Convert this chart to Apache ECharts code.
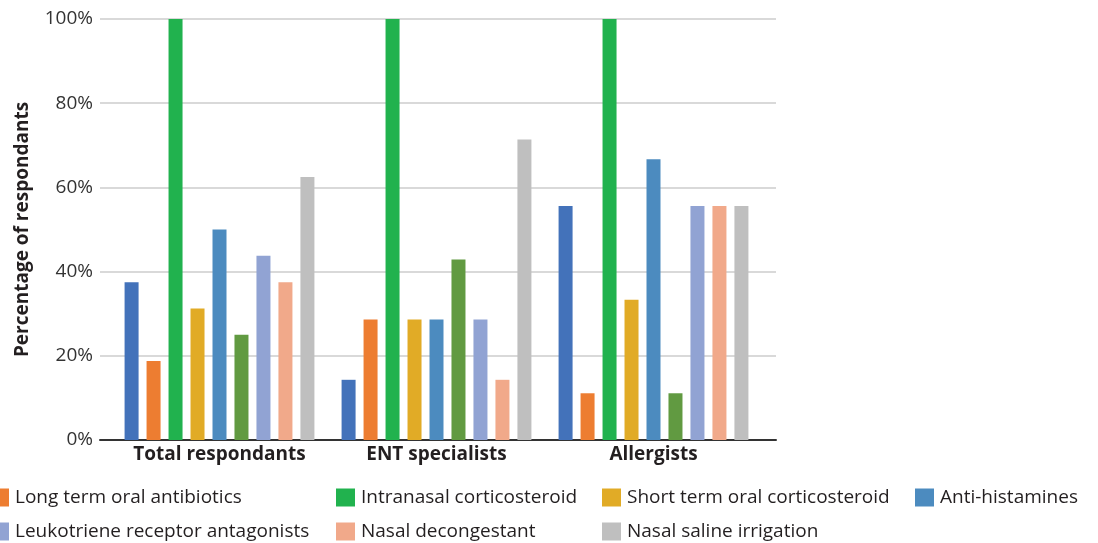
<!DOCTYPE html>
<html>
<head>
<meta charset="utf-8">
<script src="https://cdn.jsdelivr.net/npm/echarts@6/dist/echarts.min.js"></script>
<style>html,body{margin:0;padding:0;background:#fff;}#c{width:1098px;height:543px;}</style>
</head>
<body>
<div id="c"></div>
<script>
var categories = ['Total respondants', 'ENT specialists', 'Allergists'];
var seriesNames = ['Oral antibiotics (unlabelled)', 'Long term oral antibiotics', 'Intranasal corticosteroid', 'Short term oral corticosteroid', 'Anti-histamines', 'Topical therapy (unlabelled)', 'Leukotriene receptor antagonists', 'Nasal decongestant', 'Nasal saline irrigation'];
var seriesColors = ['#4372BA', '#ED7D31', '#21B24E', '#E1AB26', '#4C8BBF', '#619A41', '#91A3D3', '#F1A98A', '#BFBFBF'];
var s1 = [37.5, 14.3, 55.6];
var s2 = [18.75, 28.6, 11.1];
var s3 = [100, 100, 100];
var s4 = [31.25, 28.6, 33.3];
var s5 = [50, 28.6, 66.7];
var s6 = [25, 42.9, 11.1];
var s7 = [43.75, 28.6, 55.6];
var s8 = [37.5, 14.3, 55.6];
var s9 = [62.5, 71.4, 55.6];
var seriesValues = [s1, s2, s3, s4, s5, s6, s7, s8, s9];
var yTicks = [0, 20, 40, 60, 80, 100];
var legendColumns = [
  ['Long term oral antibiotics', 'Leukotriene receptor antagonists'],
  ['Intranasal corticosteroid', 'Nasal decongestant'],
  ['Short term oral corticosteroid', 'Nasal saline irrigation'],
  ['Anti-histamines']
];

var FONT = 'Open Sans';
var legendLefts = [-10, 336, 602, 915];
var legends = legendColumns.map(function (col, i) {
  return {
    data: col,
    orient: 'vertical',
    left: legendLefts[i],
    top: 488,
    itemWidth: 19,
    itemHeight: 18,
    itemGap: 15,
    icon: 'rect',
    selectedMode: false,
    padding: 0,
    textStyle: { fontFamily: FONT, fontSize: 19, color: '#231f20', padding: [0, 0, 0, 1] }
  };
});

var series = seriesNames.map(function (n, i) {
  return {
    name: n,
    type: 'bar',
    xAxisIndex: 1,
    yAxisIndex: 1,
    data: seriesValues[i],
    barWidth: 14,
    barGap: '57%',
    itemStyle: { color: seriesColors[i] }
  };
});

var chart = echarts.init(document.getElementById('c'));
chart.setOption({
  animation: false,
  legend: legends,
  grid: [
    { left: 100, width: 676, top: 19, bottom: 103 },
    { left: 111, width: 651, top: 19, bottom: 103 }
  ],
  xAxis: [
    { type: 'value', gridIndex: 0, min: 0, max: 1, axisLine: { show: true, lineStyle: { color: '#333', width: 2 } }, axisTick: { show: false }, axisLabel: { show: false }, splitLine: { show: false } },
    { type: 'category', gridIndex: 1, data: categories, axisLine: { show: false }, axisTick: { show: false },
      axisLabel: { interval: 0, margin: 5, fontFamily: FONT, fontSize: 19, fontWeight: 'bold', color: '#231f20' } }
  ],
  yAxis: [
    { type: 'value', gridIndex: 0, min: 0, max: 100, interval: 20,
      name: 'Percentage of respondants', nameLocation: 'middle', nameGap: 68,
      nameTextStyle: { fontFamily: FONT, fontSize: 19, fontWeight: 'bold', color: '#231f20' },
      axisLine: { show: false }, axisTick: { show: false },
      axisLabel: { margin: 7, fontFamily: FONT, fontSize: 19, color: '#333', formatter: function (v) { return yTicks.indexOf(v) >= 0 ? v + '%' : ''; } },
      splitLine: { show: true, lineStyle: { color: '#d9d9d9', width: 2 } } },
    { type: 'value', gridIndex: 1, min: 0, max: 100, show: false }
  ],
  series: series
});
</script>
</body>
</html>
